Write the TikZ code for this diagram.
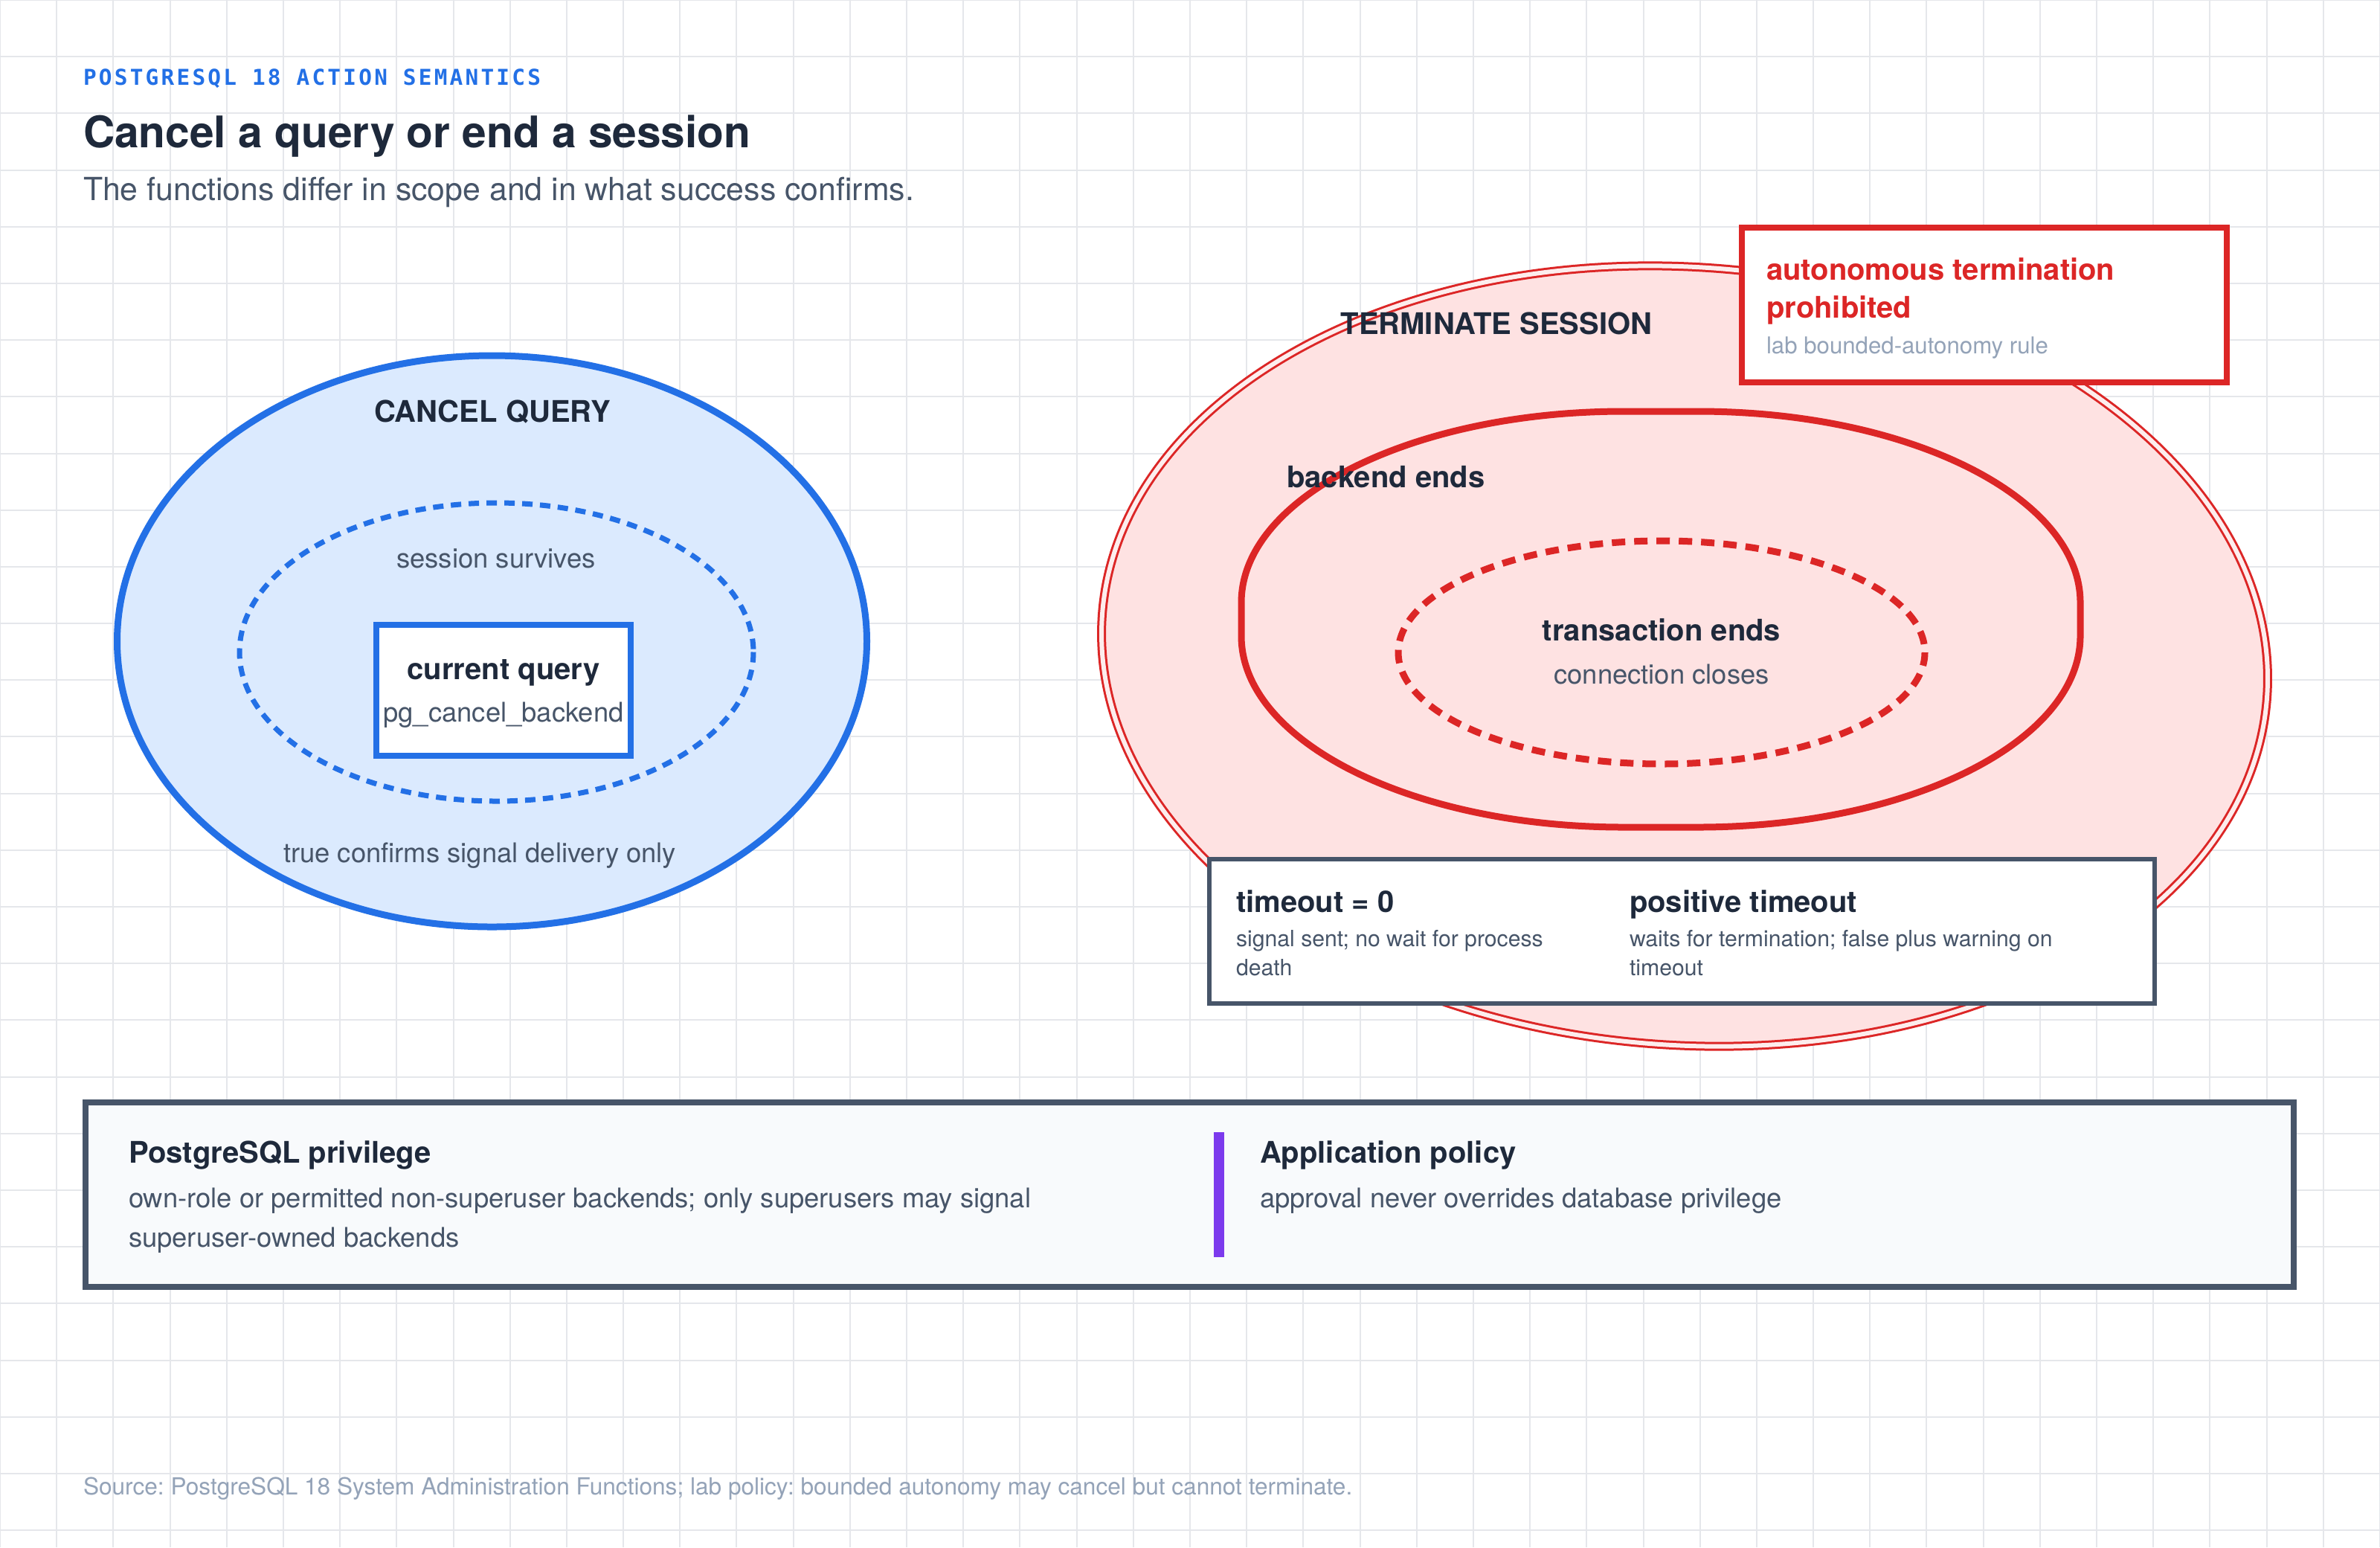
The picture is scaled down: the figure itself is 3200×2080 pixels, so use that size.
\documentclass[tikz,border=0pt]{standalone}
\usepackage{fontspec}
\setmainfont{TeX Gyre Heros}
\newfontfamily\hdrfont[LetterSpace=11]{DejaVu Sans Mono}
\newcommand\fsz[1]{\fontsize{#1}{#1}\selectfont}
\frenchspacing
\definecolor{ink}{HTML}{1E293B}
\definecolor{slate}{HTML}{475569}
\definecolor{muted}{HTML}{94A3B8}
\definecolor{gridc}{HTML}{E5E7EB}
\definecolor{blueS}{HTML}{2370E6}
\definecolor{blueF}{HTML}{DBEAFE}
\definecolor{redS}{HTML}{DC2626}
\definecolor{redF}{HTML}{FEE2E2}
\definecolor{redG}{HTML}{FDEDED}
\definecolor{purp}{HTML}{7C3AED}
\definecolor{paper}{HTML}{F8FAFC}
\tikzset{
  gridline/.style={draw=gridc, line width=0.5pt},
  lbl/.style={inner sep=0pt, outer sep=0pt, execute at begin node=\frenchspacing},
  boldlbl/.style={lbl, text=ink, font={\bfseries\fsz{10pt}}},
  bodylbl/.style={lbl, text=slate, font={\fsz{9.1pt}}},
  smalllbl/.style={lbl, text=slate, font={\fsz{7.55pt}}},
  cancelset/.style={draw=blueS, fill=blueF, line width=2.25pt},
  canceldash/.style={draw=blueS, line width=1.75pt, dash pattern=on 3.5pt off 2.5pt},
  termset/.style={draw=redS, fill=redF, line width=0.75pt, double=redG, double distance=1.5pt},
  backendset/.style={draw=redS, line width=2.25pt},
  termdash/.style={draw=redS, line width=2.25pt, dash pattern=on 4.5pt off 3pt},
  card/.style={fill=white, draw=slate, line width=1.5pt},
}
\begin{document}
\begin{tikzpicture}[x=0.25pt, y=-0.25pt]
\useasboundingbox (0,0) rectangle (3200,2080);
\fill[white] (0,0) rectangle (3200,2080);
% grid
\foreach \i in {0,...,42} \draw[gridline] ({\i*76.19},0) -- ({\i*76.19},2080);
\foreach \j in {0,...,27} \draw[gridline] (0,{\j*76.19}) -- (3200,{\j*76.19});

% header
\node[lbl, anchor=base west, text=blueS, font={\hdrfont\bfseries\fsz{7.35pt}}] (kicker) at (112,114) {POSTGRESQL 18 ACTION SEMANTICS};
\node[lbl, anchor=base west, text=ink, font={\bfseries\fsz{14.65pt}}] (title) at (112,198) {Cancel a query or end a session};
\node[lbl, anchor=base west, text=slate, font={\fsz{10.7pt}}] (subtitle) at (112,269) {The functions differ in scope and in what success confirms.};

% cancel query set
\draw[cancelset] (661.5,862) ellipse [x radius=504, y radius=384];
\draw[canceldash] (667.5,876.5) ellipse [x radius=345.5, y radius=200.5];
\draw[fill=white, draw=blueS, line width=2pt] (506,840) rectangle (848,1016);
\node[boldlbl, anchor=base] (cancelq) at (662,567) {CANCEL QUERY};
\node[bodylbl, anchor=base] (survives) at (667,763) {session survives};
\node[boldlbl, anchor=base] (curq) at (677,913) {current query};
\node[bodylbl, anchor=base] (pgcancel) at (677,970) {pg\_cancel\_backend};
\node[bodylbl, anchor=base] (trueconf) at (645,1159) {true confirms signal delivery only};

% terminate session set
\begin{scope}[rotate around={-4:(2265,882)}]
\draw[termset] (2265,882) ellipse [x radius=785, y radius=523];
\end{scope}
\draw[backendset] (2183,553) -- (2283,553)
  .. controls (2566.9,553) and (2797,668.1) .. (2797,810)
  -- (2797,855)
  .. controls (2797,996.9) and (2566.9,1112) .. (2283,1112)
  -- (2183,1112)
  .. controls (1899.1,1112) and (1669,996.9) .. (1669,855)
  -- (1669,810)
  .. controls (1669,668.1) and (1899.1,553) .. (2183,553) -- cycle;
\draw[termdash] (2234,877) ellipse [x radius=354, y radius=150];
\node[boldlbl, anchor=base] (termsess) at (2012,449) {TERMINATE SESSION};
\node[boldlbl, anchor=base west] (backend) at (1730,655) {backend ends};
\node[boldlbl, anchor=base] (txends) at (2234,861) {transaction ends};
\node[bodylbl, anchor=base] (connclose) at (2234,919) {connection closes};

% prohibition card
\draw[fill=white, draw=redS, line width=2pt] (2342,306) rectangle (2994,514);
\node[lbl, anchor=base west, text=redS, font={\bfseries\fsz{10pt}}] (proh1) at (2375,376) {autonomous termination};
\node[lbl, anchor=base west, text=redS, font={\bfseries\fsz{10pt}}] (proh2) at (2375,427) {prohibited};
\node[lbl, anchor=base west, text=muted, font={\fsz{7.8pt}}] (prohrule) at (2375,475) {lab bounded-autonomy rule};

% timeout card
\draw[card] (1626,1155) rectangle (2897,1349);
\node[boldlbl, anchor=base west] (t0) at (1662,1226) {timeout = 0};
\node[smalllbl, anchor=base west] (t0a) at (1662,1272) {signal sent; no wait for process};
\node[smalllbl, anchor=base west] (t0b) at (1662,1311) {death};
\node[boldlbl, anchor=base west] (tp) at (2191,1226) {positive timeout};
\node[smalllbl, anchor=base west] (tpa) at (2191,1272) {waits for termination; false plus warning on};
\node[smalllbl, anchor=base west] (tpb) at (2191,1311) {timeout};

% bottom panel
\draw[fill=paper, draw=slate, line width=2pt] (115,1482) rectangle (3084,1730);
\node[boldlbl, anchor=base west] (privh) at (173,1563) {PostgreSQL privilege};
\node[bodylbl, anchor=base west] (priv1) at (173,1623) {own-role or permitted non-superuser backends; only superusers may signal};
\node[bodylbl, anchor=base west] (priv2) at (173,1676) {superuser-owned backends};
\fill[purp] (1632,1522) rectangle (1646,1690);
\node[boldlbl, anchor=base west] (apph) at (1694,1563) {Application policy};
\node[bodylbl, anchor=base west] (app1) at (1694,1623) {approval never overrides database privilege};

% footer
\node[lbl, anchor=base west, text=muted, font={\fsz{7.9pt}}] (source) at (112,2009) {Source: PostgreSQL 18 System Administration Functions; lab policy: bounded autonomy may cancel but cannot terminate.};
\end{tikzpicture}
\end{document}
